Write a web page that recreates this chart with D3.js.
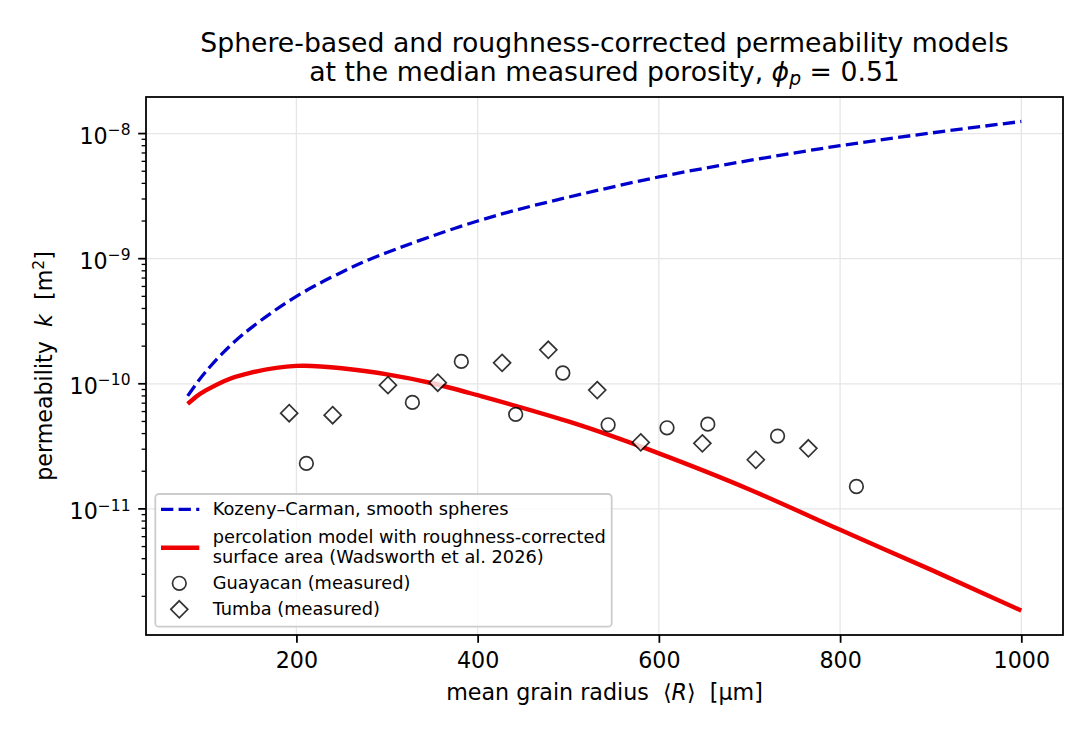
<!DOCTYPE html>
<html>
<head>
<meta charset="utf-8">
<script src="https://cdn.jsdelivr.net/npm/d3@7"></script>
<style>
  body { margin: 0; background: #fff; }
  svg { font-family: "DejaVu Sans", sans-serif; }
</style>
</head>
<body>
<div id="chart"></div>
<script>
// values
const kcRadius = [80, 90, 100, 120, 150, 200, 250, 300, 400, 500, 600, 700, 800, 900, 1000];
const kcPerm = [8.0e-11, 1.01e-10, 1.25e-10, 1.8e-10, 2.8e-10, 5.0e-10, 7.8e-10, 1.12e-9,
                2.0e-9, 3.1e-9, 4.5e-9, 6.1e-9, 8.0e-9, 1.01e-8, 1.25e-8];

const percRadius = [80, 90, 100, 120, 150, 200, 250, 300, 350, 400, 500, 600, 700, 800, 900, 1000];
const percPerm = [6.9e-11, 7.95e-11, 8.85e-11, 1.05e-10, 1.23e-10, 1.39e-10, 1.33e-10, 1.19e-10,
                  1.01e-10, 8.1e-11, 5.0e-11, 2.78e-11, 1.43e-11, 6.8e-12, 3.27e-12, 1.54e-12];

const guayacanRadius = [211, 328, 382, 442, 494, 544, 609, 654, 731, 818];
const guayacanPerm = [2.31e-11, 7.1e-11, 1.51e-10, 5.7e-11, 1.22e-10, 4.7e-11, 4.45e-11, 4.76e-11, 3.82e-11, 1.51e-11];

const tumbaRadius = [192, 240, 301, 356, 427, 478, 532, 580, 648, 707, 765];
const tumbaPerm = [5.82e-11, 5.61e-11, 9.75e-11, 1.02e-10, 1.47e-10, 1.87e-10, 8.9e-11, 3.4e-11, 3.34e-11, 2.47e-11, 3.05e-11];

const xTicks = [200, 400, 600, 800, 1000];
const yTickExp = [-8, -9, -10, -11];

const W = 1088, H = 736;
const pL = 146, pR = 1063, pT = 97, pB = 635;
const font = "DejaVu Sans";
const fsTick = 22.2, fsTitle = 26.7, fsLegend = 17.8, fsSup = 15.5;

const svg = d3.select("#chart").append("svg")
    .attr("width", W)
    .attr("height", H);

// matplotlib style 5% margins
const allR = kcRadius.concat(percRadius, guayacanRadius, tumbaRadius);
const allK = kcPerm.concat(percPerm, guayacanPerm, tumbaPerm);
const rMin = d3.min(allR), rMax = d3.max(allR);
const rPad = (rMax - rMin) * 0.05;
const lkMin = Math.log10(d3.min(allK)), lkMax = Math.log10(d3.max(allK));
const lkPad = (lkMax - lkMin) * 0.05;

const x = d3.scaleLinear()
    .domain([rMin - rPad, rMax + rPad])
    .range([pL, pR]);

const y = d3.scaleLog()
    .domain([Math.pow(10, lkMin - lkPad), Math.pow(10, lkMax + lkPad)])
    .range([pB, pT]);

// grid
const grid = svg.append("g");
grid.selectAll("line.gx")
    .data(xTicks)
    .enter().append("line")
    .attr("x1", d => x(d)).attr("x2", d => x(d))
    .attr("y1", pT).attr("y2", pB)
    .attr("stroke", "#e6e6e6").attr("stroke-width", 1.3);
grid.selectAll("line.gy")
    .data(yTickExp)
    .enter().append("line")
    .attr("x1", pL).attr("x2", pR)
    .attr("y1", d => y(Math.pow(10, d))).attr("y2", d => y(Math.pow(10, d)))
    .attr("stroke", "#e6e6e6").attr("stroke-width", 1.3);

const plot = svg.append("g");

const line = d3.line()
    .x(d => x(d[0]))
    .y(d => y(d[1]))
    .curve(d3.curveNatural);

plot.append("path")
    .attr("d", line(d3.zip(kcRadius, kcPerm)))
    .attr("fill", "none")
    .attr("stroke", "#0000cc")
    .attr("stroke-width", 3.3)
    .attr("stroke-dasharray", "12.3,5.3");

plot.append("path")
    .attr("d", line(d3.zip(percRadius, percPerm)))
    .attr("fill", "none")
    .attr("stroke", "#ee0000")
    .attr("stroke-width", 4.4);

const circleR = 6.8;
const diamondR = 8.5;
const diamondPath = r => `M0,${-r}L${r},0L0,${r}L${-r},0Z`;

plot.selectAll("circle.guayacan")
    .data(d3.zip(guayacanRadius, guayacanPerm))
    .enter().append("circle")
    .attr("cx", d => x(d[0]))
    .attr("cy", d => y(d[1]))
    .attr("r", circleR)
    .attr("fill", "white")
    .attr("stroke", "black")
    .attr("stroke-width", 1.7)
    .attr("opacity", 0.8);

plot.selectAll("path.tumba")
    .data(d3.zip(tumbaRadius, tumbaPerm))
    .enter().append("path")
    .attr("transform", d => `translate(${x(d[0])},${y(d[1])})`)
    .attr("d", diamondPath(diamondR))
    .attr("fill", "white")
    .attr("stroke", "black")
    .attr("stroke-width", 1.7)
    .attr("opacity", 0.8);

// x axis
const xAxis = svg.append("g")
    .attr("transform", `translate(0,${pB})`)
    .call(d3.axisBottom(x).tickValues(xTicks).tickSize(7.8).tickPadding(5).tickFormat(d3.format("d")));
xAxis.select(".domain").remove();
xAxis.selectAll(".tick line").attr("stroke", "black").attr("stroke-width", 1.78);
xAxis.selectAll(".tick text")
    .attr("font-family", font).attr("font-size", fsTick).attr("fill", "black")
    .attr("dy", null).attr("y", 33.3);

// y axis: minor ticks
const [dLo, dHi] = y.domain();
const minor = [];
for (let e = Math.floor(Math.log10(dLo)); e <= Math.ceil(Math.log10(dHi)); e++) {
    for (let m = 2; m <= 9; m++) {
        const v = m * Math.pow(10, e);
        if (v >= dLo && v <= dHi) minor.push(v);
    }
}
svg.append("g").selectAll("line")
    .data(minor)
    .enter().append("line")
    .attr("x1", pL - 4.4).attr("x2", pL)
    .attr("y1", d => y(d)).attr("y2", d => y(d))
    .attr("stroke", "black").attr("stroke-width", 1.33);

const yAxis = svg.append("g");
yAxis.selectAll("line")
    .data(yTickExp)
    .enter().append("line")
    .attr("x1", pL - 7.8).attr("x2", pL)
    .attr("y1", d => y(Math.pow(10, d))).attr("y2", d => y(Math.pow(10, d)))
    .attr("stroke", "black").attr("stroke-width", 1.78);

const yLab = yAxis.selectAll("text")
    .data(yTickExp)
    .enter().append("text")
    .attr("x", 130.5)
    .attr("y", d => y(Math.pow(10, d)) + 10.5)
    .attr("text-anchor", "end")
    .attr("font-family", font)
    .attr("font-size", fsTick)
    .attr("fill", "black");
yLab.append("tspan").text("10");
yLab.append("tspan")
    .attr("dy", -8.8)
    .attr("font-size", fsSup)
    .text(d => "\u2212" + Math.abs(d));

// spines
svg.append("rect")
    .attr("x", pL).attr("y", pT)
    .attr("width", pR - pL).attr("height", pB - pT)
    .attr("fill", "none")
    .attr("stroke", "black")
    .attr("stroke-width", 1.78);

// axis labels
const xl = svg.append("text")
    .attr("x", (pL + pR) / 2)
    .attr("y", 700)
    .attr("text-anchor", "middle")
    .attr("font-family", font).attr("font-size", fsTick)
    .attr("xml:space", "preserve");
xl.append("tspan").text("mean grain radius  \u27E8");
xl.append("tspan").attr("font-style", "italic").text("R");
xl.append("tspan").text("\u27E9  [\u00B5m]");

const yl = svg.append("text")
    .attr("transform", `translate(52,${(pT + pB) / 2}) rotate(-90)`)
    .attr("text-anchor", "middle")
    .attr("font-family", font).attr("font-size", fsTick)
    .attr("xml:space", "preserve");
yl.append("tspan").text("permeability  ");
yl.append("tspan").attr("font-style", "italic").text("k");
yl.append("tspan").text("  [m");
yl.append("tspan").attr("dy", -8.5).attr("font-size", fsSup).text("2");
yl.append("tspan").attr("dy", 8.5).text("]");

// title
const cx = (pL + pR) / 2;
svg.append("text")
    .attr("x", cx).attr("y", 51.7)
    .attr("text-anchor", "middle")
    .attr("font-family", font).attr("font-size", fsTitle)
    .text("Sphere-based and roughness-corrected permeability models");
const t2 = svg.append("text")
    .attr("x", cx).attr("y", 80.5)
    .attr("text-anchor", "middle")
    .attr("font-family", font).attr("font-size", fsTitle)
    .attr("xml:space", "preserve");
t2.append("tspan").text("at the median measured porosity, ");
t2.append("tspan").attr("font-style", "italic").text("\u03D5");
t2.append("tspan").attr("font-style", "italic").attr("font-size", 18.7).attr("dy", 4.5).text("p");
t2.append("tspan").attr("dy", -4.5).text(" = 0.51");

// legend
const lg = svg.append("g");
lg.append("rect")
    .attr("x", 155.3).attr("y", 494)
    .attr("width", 456.4).attr("height", 132.7)
    .attr("rx", 3.5)
    .attr("fill", "white").attr("fill-opacity", 0.8)
    .attr("stroke", "#cccccc").attr("stroke-width", 1.78);

const hx0 = 161, hx1 = 199.3, hcx = 179.3, tx = 212.7;
lg.append("line")
    .attr("x1", hx0).attr("x2", hx1).attr("y1", 509.3).attr("y2", 509.3)
    .attr("stroke", "#0000cc").attr("stroke-width", 3.3)
    .attr("stroke-dasharray", "12.3,5.3");
lg.append("line")
    .attr("x1", hx0).attr("x2", hx1).attr("y1", 547.7).attr("y2", 547.7)
    .attr("stroke", "#ee0000").attr("stroke-width", 4.4);
lg.append("circle")
    .attr("cx", hcx).attr("cy", 583.3).attr("r", circleR)
    .attr("fill", "white").attr("stroke", "black").attr("stroke-width", 1.7).attr("opacity", 0.8);
lg.append("path")
    .attr("transform", `translate(${hcx},609.3)`)
    .attr("d", diamondPath(diamondR))
    .attr("fill", "white").attr("stroke", "black").attr("stroke-width", 1.7).attr("opacity", 0.8);

const legendText = [
    ["Kozeny\u2013Carman, smooth spheres", 515],
    ["percolation model with roughness-corrected", 542.7],
    ["surface area (Wadsworth et al. 2026)", 562.7],
    ["Guayacan (measured)", 589.3],
    ["Tumba (measured)", 615]
];
lg.selectAll("text")
    .data(legendText)
    .enter().append("text")
    .attr("x", tx)
    .attr("y", d => d[1])
    .attr("font-family", font).attr("font-size", fsLegend)
    .attr("fill", "black")
    .text(d => d[0]);
</script>
</body>
</html>
